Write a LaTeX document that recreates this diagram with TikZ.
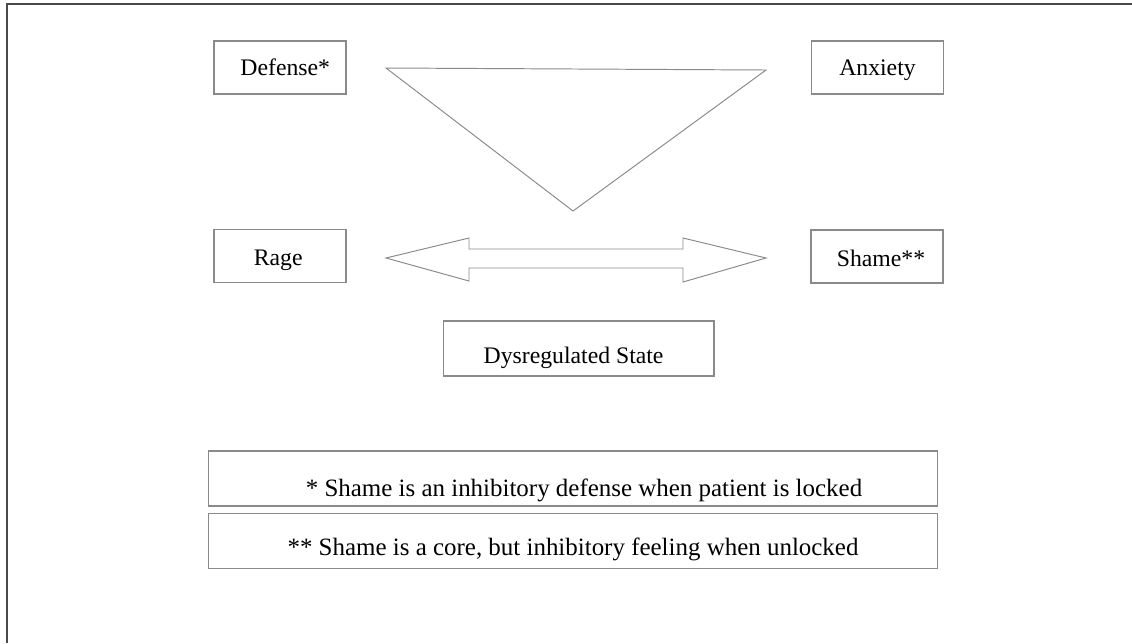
\documentclass[tikz,border=0pt]{standalone}
\usepackage{fontspec}
\setmainfont{Liberation Serif}
\usepackage{tikz}
\usetikzlibrary{positioning}
\definecolor{LineGray}{HTML}{8A8A8A}
\definecolor{FrameGray}{HTML}{4A4A4A}

\begin{document}
\begin{tikzpicture}[
  x=0.02cm, y=-0.02cm,
  font=\fontsize{13.5}{15}\selectfont,
  box/.style={draw=LineGray,line width=0.6pt,minimum width=2.64cm,minimum height=1.06cm,align=center,inner sep=0pt,text height=8.8pt,text depth=0pt},
  wide/.style={box,font=\fontsize{14.2}{16}\selectfont,minimum width=14.6cm,minimum height=1.1cm},
  shape line/.style={draw=LineGray,line width=0.55pt,line join=miter}
]
  \useasboundingbox (0,0) rectangle (1132,643);
  \draw[FrameGray,line width=1pt] (7,643) -- (7,4) -- (1132,4);

  \node[box] (defense) at (280,67.5) {\hspace*{6pt}Defense*};
  \node[box] (anxiety) at (877.5,67.5) {Anxiety};
  \node[box,text height=11pt] (rage) at (280,256) {Rage\hspace*{2pt}};
  \node[box,text height=11pt] (shame) at (877,256.5) {\hspace*{4.5pt}Shame**};
  \node[box,minimum width=5.42cm,minimum height=1.1cm,text height=17pt] (dysreg) at (578.5,348.5) {Dysregulated State\hspace*{5.6pt}};

  \node[wide,text height=23pt,text depth=3pt] (note1) at (573,478.5) {\hspace*{12.5pt}* Shame is an inhibitory defense when patient is locked};
  \node[wide,text height=19pt,text depth=3pt] (note2) at (573,541) {** Shame is a core, but inhibitory feeling when unlocked};

  % triangle between the top boxes
  \coordinate (tl) at (386,68);
  \coordinate (tr) at (766,70);
  \coordinate (tb) at (573,211);
  \draw[shape line] (tl) -- (tr) -- (tb) -- cycle;

  % double arrow between rage and shame
  \coordinate (al) at (386,258);
  \coordinate (ar) at (766,258);
  \draw[shape line] (al) -- (469,238) -- (469,249) -- (683,249) -- (683,238) -- (ar)
    -- (683,282) -- (683,268) -- (469,268) -- (469,281) -- cycle;
\end{tikzpicture}
\end{document}
